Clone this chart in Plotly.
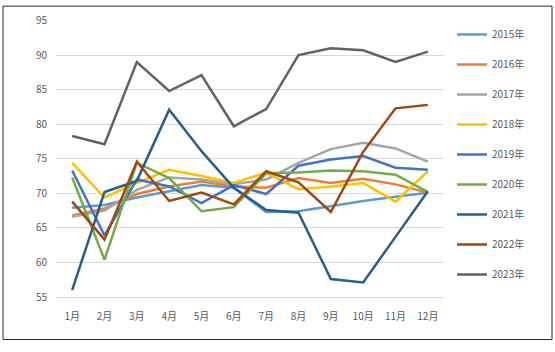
import plotly.graph_objects as go

months = ["1月", "2月", "3月", "4月", "5月", "6月", "7月", "8月", "9月", "10月", "11月", "12月"]
y_ticks = [55, 60, 65, 70, 75, 80, 85, 90, 95]

s2015 = [67.9, 68.3, 69.4, 70.3, 71.2, 70.8, 67.3, 67.4, 68.2, 68.9, 69.5, 70.1]
s2016 = [66.8, 67.8, 69.9, 71.0, 71.7, 71.0, 70.8, 72.2, 71.5, 72.1, 71.3, 70.1]
s2017 = [66.6, 67.5, 70.5, 72.3, 72.0, 71.3, 72.0, 74.4, 76.4, 77.3, 76.5, 74.6]
s2018 = [74.4, 69.4, 71.5, 73.4, 72.5, 71.5, 73.0, 70.6, 71.0, 71.5, 68.8, 73.2]
s2019 = [73.3, 63.9, 72.0, 71.0, 68.6, 71.2, 69.9, 74.0, 74.9, 75.4, 73.7, 73.4]
s2020 = [72.3, 60.4, 74.4, 72.2, 67.4, 68.0, 72.9, 73.0, 73.3, 73.2, 72.7, 70.2]
s2021 = [56.0, 70.2, 71.8, 82.1, 76.1, 70.8, 67.6, 67.2, 57.6, 57.1, 63.7, 70.3]
s2022 = [68.8, 63.3, 74.6, 68.9, 70.1, 68.4, 73.2, 71.6, 67.3, 76.0, 82.3, 82.8]
s2023 = [78.3, 77.1, 89.0, 84.8, 87.1, 79.7, 82.2, 90.0, 91.0, 90.7, 89.0, 90.5]

series = [
    ("2015年", s2015, "#5B9BD5"),
    ("2016年", s2016, "#ED7D31"),
    ("2017年", s2017, "#A5A5A5"),
    ("2018年", s2018, "#FFC000"),
    ("2019年", s2019, "#4472C4"),
    ("2020年", s2020, "#70AD47"),
    ("2021年", s2021, "#255E91"),
    ("2022年", s2022, "#9E480E"),
    ("2023年", s2023, "#636363"),
]

FONT = "Noto Sans CJK SC"
fig = go.Figure()
for name, vals, color in series:
    fig.add_trace(go.Scatter(
        x=months, y=vals, name=name, mode="lines",
        line=dict(color=color, width=2.5),
        legendgroup=name,
    ))

W, H = 555, 352
L, R, T, B = 56, 111, 17, 55
pw, ph = W - L - R, H - T - B

def px(x):
    return (x - L) / pw

def py(y):
    return (H - B - y) / ph

fig.update_layout(
    width=W, height=H,
    margin=dict(l=L, r=R, t=T, b=B),
    paper_bgcolor="white", plot_bgcolor="white",
    font=dict(family=FONT, size=10, color="#595959"),
    showlegend=True,
    legend=dict(
        x=px(452), y=1.0, xanchor="left", yanchor="top",
        font=dict(family=FONT, size=10, color="#595959"),
        tracegroupgap=11,
        bgcolor="rgba(0,0,0,0)",
    ),
    xaxis=dict(
        type="category", range=[-0.5, 11.5], showgrid=False, showline=True,
        linecolor="#D9D9D9", linewidth=1, ticks="",
        tickfont=dict(family=FONT, size=10, color="#595959"),
        ticklabelstandoff=10,
    ),
    yaxis=dict(
        range=[55, 95.08], tickvals=y_ticks, showgrid=True,
        gridcolor="#D9D9D9", gridwidth=1, zeroline=False,
        showline=False, ticks="",
        tickfont=dict(family=FONT, size=10, color="#595959"),
        ticklabelstandoff=8,
    ),
    shapes=[dict(
        type="rect", xref="paper", yref="paper",
        x0=px(3), x1=px(552), y0=py(340), y1=py(3),
        line=dict(color="#262626", width=1), fillcolor="rgba(0,0,0,0)",
        layer="below",
    )],
)

fig.write_html("out.html")
